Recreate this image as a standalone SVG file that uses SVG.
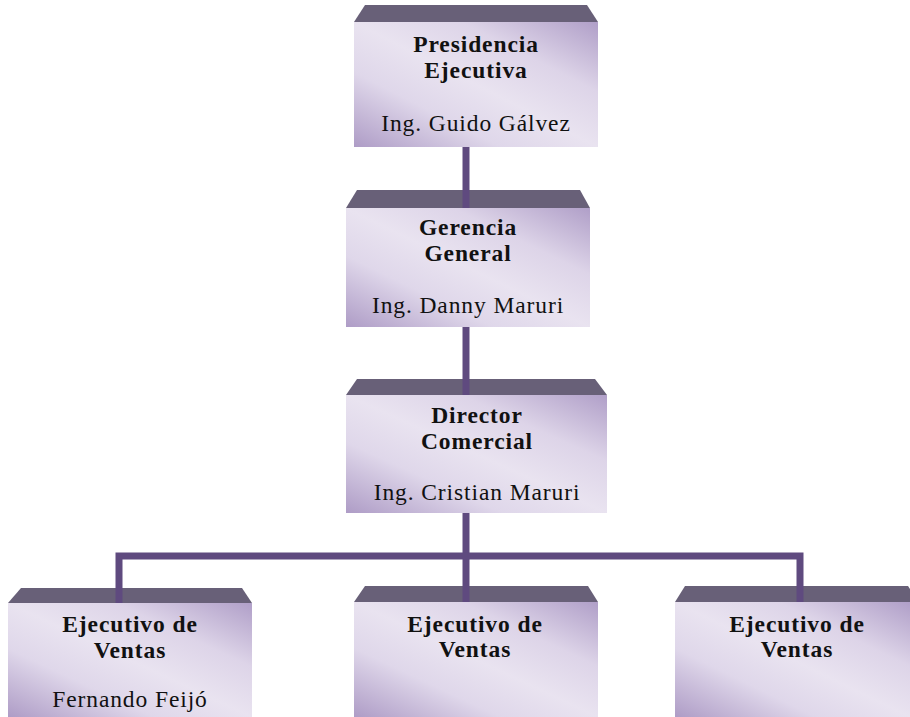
<svg xmlns="http://www.w3.org/2000/svg" width="910" height="717" viewBox="0 0 910 717">
<defs>
<linearGradient id="fill" x1="0" y1="1" x2="1" y2="0">
<stop offset="0" stop-color="#ae9cc6"/>
<stop offset="0.3" stop-color="#dfd7ea"/>
<stop offset="0.5" stop-color="#e9e3f0"/>
<stop offset="0.72" stop-color="#ddd4e8"/>
<stop offset="1" stop-color="#b09fc8"/>
</linearGradient>
</defs>
<style>
.bevel{fill:#686078}
.body{fill:url(#fill)}
.t{font-family:"Liberation Serif","Times New Roman",serif;font-size:23.5px;text-anchor:middle;fill:#111;letter-spacing:0.9px}
.b{font-weight:bold;letter-spacing:0.9px}
.conn{stroke:#5f4a7f;stroke-width:7;fill:none;stroke-linejoin:miter;stroke-linecap:butt}
</style>
<rect width="910" height="717" fill="#ffffff"/>
<g id="presidencia">
<polygon class="bevel" points="365,5 587,5 598,22 354,22"/>
<rect class="body" x="354" y="22" width="244" height="125"/>
<text class="t b" x="476" y="52">Presidencia</text>
<text class="t b" x="476" y="78">Ejecutiva</text>
<text class="t" x="476" y="131">Ing. Guido Gálvez</text>
</g>
<g id="gerencia">
<polygon class="bevel" points="357,190 580,190 590,208 346,208"/>
<rect class="body" x="346" y="208" width="244" height="119"/>
<text class="t b" x="468" y="235">Gerencia</text>
<text class="t b" x="468" y="261">General</text>
<text class="t" x="468" y="313">Ing. Danny Maruri</text>
</g>
<g id="director">
<polygon class="bevel" points="357,379 595,379 607,395 346,395"/>
<rect class="body" x="346" y="395" width="261" height="118"/>
<text class="t b" x="477" y="423">Director</text>
<text class="t b" x="477" y="449">Comercial</text>
<text class="t" x="477" y="500">Ing. Cristian Maruri</text>
</g>
<g id="ejecutivo1">
<polygon class="bevel" points="21,588 242,588 252,603 8,603"/>
<rect class="body" x="8" y="603" width="244" height="114"/>
<text class="t b" x="130" y="632">Ejecutivo de</text>
<text class="t b" x="130" y="658">Ventas</text>
<text class="t" x="130" y="707">Fernando Feijó</text>
</g>
<g id="ejecutivo2">
<polygon class="bevel" points="365,586 588,586 598,602 354,602"/>
<rect class="body" x="354" y="602" width="244" height="115"/>
<text class="t b" x="475" y="632">Ejecutivo de</text>
<text class="t b" x="475" y="657">Ventas</text>
</g>
<g id="ejecutivo3">
<polygon class="bevel" points="685,586 908,586 910,589 910,602 675,602"/>
<rect class="body" x="675" y="602" width="235" height="115"/>
<text class="t b" x="797" y="632">Ejecutivo de</text>
<text class="t b" x="797" y="657">Ventas</text>
</g>
<g id="connectors">
<line class="conn" x1="466" y1="147" x2="466" y2="208"/>
<line class="conn" x1="466" y1="327" x2="466" y2="395"/>
<line class="conn" x1="466" y1="513" x2="466" y2="602"/>
<polyline class="conn" points="119,603 119,556 800,556 800,602"/>
</g>
</svg>
